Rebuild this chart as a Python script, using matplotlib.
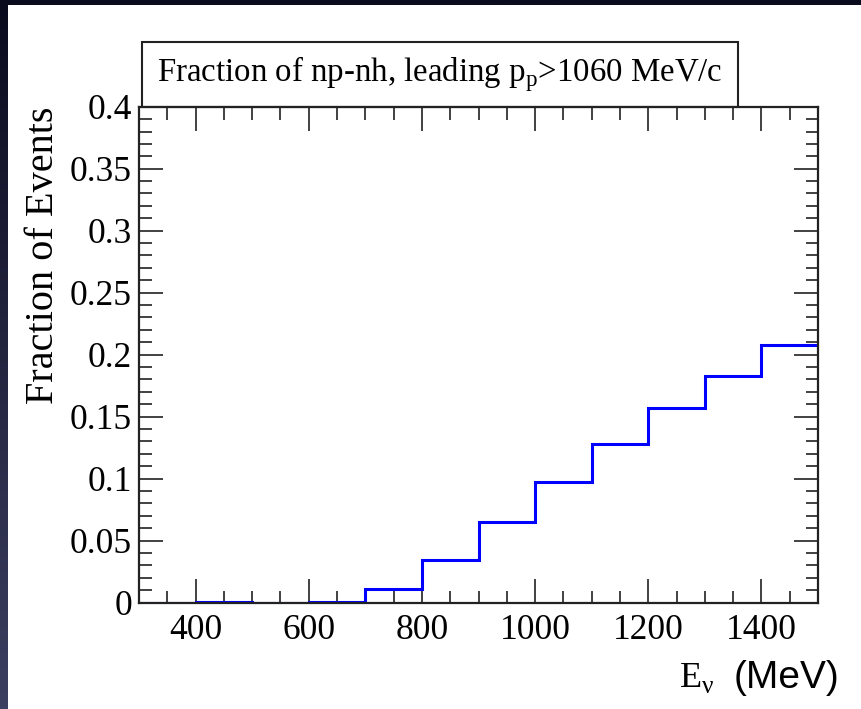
import numpy as np
import matplotlib
matplotlib.use("Agg")
from matplotlib import pyplot as plt
from matplotlib.patches import Rectangle

# bin edges (MeV) and fraction per bin
bin_edges = [300, 400, 500, 600, 700, 800, 900, 1000, 1100, 1200, 1300, 1400, 1500]
fractions = [0.0, 0.0004, 0.0, 0.0004, 0.011, 0.034, 0.065, 0.097, 0.128, 0.157, 0.183, 0.208]

x_major = [400, 600, 800, 1000, 1200, 1400]
x_labels = ["400", "600", "800", "1000", "1200", "1400"]
y_major = [0, 0.05, 0.1, 0.15, 0.2, 0.25, 0.3, 0.35, 0.4]
y_labels = ["0", "0.05", "0.1", "0.15", "0.2", "0.25", "0.3", "0.35", "0.4"]

serif = "Liberation Serif"
sans = "Liberation Sans"

fig = plt.figure(figsize=(8.62, 7.09), dpi=100)

# dark slide background with a vertical gradient, white panel on top
bg = fig.add_axes([0, 0, 1, 1], zorder=-10)
grad = np.linspace(0, 1, 256).reshape(-1, 1)
top_c = np.array([11, 11, 30]) / 255
bot_c = np.array([60, 63, 96]) / 255
img = top_c + (bot_c - top_c) * grad[..., None]
bg.imshow(img, aspect="auto", extent=[0, 1, 0, 1], origin="upper")
bg.add_patch(Rectangle((8 / 862, 0), 1, 1 - 5 / 709, facecolor="white", edgecolor="none"))
bg.set_xlim(0, 1)
bg.set_ylim(0, 1)
bg.axis("off")

ax = fig.add_axes([0.1613, 0.150, 0.7877, 0.6995])
ax.stairs(fractions, bin_edges, color="#0000ff", linewidth=2.2, baseline=None, zorder=3)

ax.set_xlim(300, 1500)
ax.set_ylim(0, 0.4)
ax.set_xticks(x_major)
ax.set_xticklabels(x_labels, fontfamily=serif, fontsize=25.5)
ax.set_xticks(np.arange(300, 1501, 50), minor=True)
ax.set_yticks(y_major)
ax.set_yticklabels(y_labels, fontfamily=serif, fontsize=25.5)
ax.set_yticks(np.arange(0, 0.401, 0.01), minor=True)

ax.tick_params(which="both", direction="in", top=True, right=True, color="#333333", width=1.3)
ax.tick_params(which="major", length=17)
ax.tick_params(which="minor", length=9)
ax.tick_params(axis="x", which="major", pad=8)
ax.tick_params(axis="y", which="major", pad=5)
for s in ax.spines.values():
    s.set_linewidth(1.6)
    s.set_color("#222222")
    s.set_zorder(4)

ax.set_ylabel("Fraction of Events", fontfamily=serif, fontsize=29, loc="top", labelpad=6)

# x label: serif symbol, sans units
fig.text(0.8086, 0.044, r"E$_\mathregular{\nu}$", fontfamily=serif, fontsize=26, ha="center", va="center")
fig.text(0.912, 0.044, "(MeV)", fontfamily=sans, fontsize=28, ha="center", va="center")

# title box
ax.add_patch(Rectangle((0.0044, 1.0), 0.878, 0.130, transform=ax.transAxes, clip_on=False,
                       facecolor="white", edgecolor="#222222", linewidth=1.5))
ax.text(0.443, 1.066, r"Fraction of np-nh, leading p$_\mathregular{p}$>1060 MeV/c",
        transform=ax.transAxes, fontfamily=serif, fontsize=23.7, ha="center", va="center")

fig.savefig("out.png", dpi=100)
